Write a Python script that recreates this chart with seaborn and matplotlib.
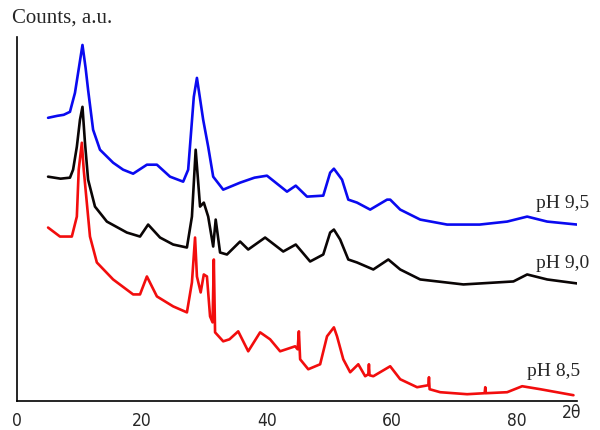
import matplotlib
matplotlib.use("Agg")
import matplotlib.pyplot as plt
import seaborn as sns
import pandas as pd
from matplotlib.ticker import MultipleLocator

# 2-theta positions and intensities (a.u.)
blue_tt = [5.0, 6.5, 7.5, 8.5, 9.3, 10.0, 10.5, 11.0, 11.4, 12.2, 13.3, 15.4, 17.0, 18.6,
           20.8, 22.4, 24.5, 26.6, 27.4, 28.3, 28.8, 29.8, 30.6, 31.4, 33.0, 35.7, 38.0,
           40.0, 43.2, 44.6, 46.4, 49.0, 50.1, 50.7, 52.0, 53.0, 54.4, 56.5, 59.2, 59.7,
           61.3, 64.5, 68.8, 74.0, 78.4, 81.6, 84.8, 89.6]
blue_i = [284, 286, 287, 290, 309, 337, 357, 334, 312, 272, 252, 239, 232, 228,
          237, 237, 225, 220, 232, 305, 324, 282, 255, 225, 212, 219, 224,
          226, 210, 216, 205, 206, 229, 233, 222, 202, 199, 192, 202, 202,
          192, 182, 177, 177, 180, 185, 180, 177]

black_tt = [5.0, 7.0, 8.5, 9.0, 9.6, 10.1, 10.5, 10.9, 11.4, 12.5, 14.4, 17.6, 19.7, 21.0,
            22.9, 25.0, 27.2, 28.0, 28.6, 29.3, 29.9, 30.6, 31.4, 31.8, 32.5, 33.6, 35.7,
            37.0, 39.7, 42.6, 44.6, 46.9, 49.0, 50.1, 50.7, 51.7, 53.0, 54.4, 57.0, 59.4,
            61.3, 64.5, 71.4, 79.4, 81.6, 84.8, 89.6]
black_i = [225, 223, 224, 232, 255, 282, 295, 259, 222, 195, 180, 169, 165, 177,
           164, 157, 154, 185, 252, 195, 199, 185, 155, 182, 149, 147, 160,
           152, 164, 150, 157, 140, 147, 169, 172, 162, 142, 139, 132, 142,
           132, 122, 117, 120, 127, 122, 118]

red_tt = [5.0, 6.9, 8.8, 9.6, 9.9, 10.4, 10.7, 11.7, 12.8, 15.4, 18.6, 19.7, 20.8, 22.4,
          25.0, 27.2, 28.0, 28.5, 28.8, 29.4, 29.9, 30.4, 30.9, 31.3, 31.5, 31.7, 33.0,
          34.0, 35.4, 37.0, 38.9, 40.5, 42.1, 44.5, 44.9, 45.1, 45.3, 46.6, 48.5, 49.6,
          50.7, 51.2, 52.2, 53.3, 54.6, 55.7, 56.2, 56.3, 56.4, 57.0, 59.7, 61.3, 64.0,
          65.8, 65.9, 66.0, 67.7, 72.0, 74.8, 74.9, 75.0, 78.4, 80.8, 83.7, 89.0]
red_i = [174, 165, 165, 185, 232, 259, 232, 165, 139, 122, 107, 107, 125, 105,
         95, 89, 119, 164, 125, 109, 127, 125, 85, 79, 142, 69, 60,
         62, 70, 50, 69, 62, 50, 55, 52, 70, 42, 32, 37, 65,
         74, 65, 42, 29, 37, 25, 27, 37, 26, 25, 35, 22, 14,
         16, 24, 12, 9, 7, 8, 14, 8, 9, 15, 12, 6]

labels = ["pH 9,5", "pH 9,0", "pH 8,5"]
colors = ["#0a0af0", "#0a0505", "#f20d0d"]

sns.set_style("white")

fig = plt.figure(figsize=(6, 4.3), dpi=100)
ax = fig.add_axes([0.028, 0.067, 0.934, 0.847])

series = [(blue_tt, blue_i), (black_tt, black_i), (red_tt, red_i)]
for (tt, inten), lab, col in zip(series, labels, colors):
    df = pd.DataFrame({"two_theta": tt, "counts": inten})
    sns.lineplot(data=df, x="two_theta", y="counts", ax=ax, color=col,
                 linewidth=1.9, estimator=None, sort=False)

# curve labels at the right end
serif = "Liberation Serif"
ax.text(83.0, 198, labels[0], ha="left", va="center", fontsize=14, family=serif)
ax.text(83.0, 138, labels[1], ha="left", va="center", fontsize=14, family=serif)
ax.text(81.5, 30, labels[2], ha="left", va="center", fontsize=14, family=serif)

ax.set_xlim(0, 89.6)
ax.set_ylim(0, 365)
ax.set_xlabel("")
ax.set_ylabel("")
ax.set_yticks([])

ax.xaxis.set_major_locator(MultipleLocator(20))
ax.xaxis.set_minor_locator(MultipleLocator(10))
ax.tick_params(axis="x", which="major", direction="in", length=4, width=1,
               pad=8, labelsize=12.5)
ax.tick_params(axis="x", which="minor", direction="in", length=2, width=1)
for t in ax.get_xticklabels():
    t.set_family("DejaVu Sans")
    t.set_stretch("condensed")

for side in ["top", "right"]:
    ax.spines[side].set_visible(False)
for side in ["left", "bottom"]:
    ax.spines[side].set_color("black")
    ax.spines[side].set_linewidth(1.2)

fig.text(0.02, 0.957, "Counts, a.u.", ha="left", va="center", fontsize=15,
         family=serif)
fig.text(0.937, 0.04, "2θ", ha="left", va="center", fontsize=12.5,
         family="DejaVu Sans", stretch="condensed")

fig.savefig("out.png", dpi=100)
